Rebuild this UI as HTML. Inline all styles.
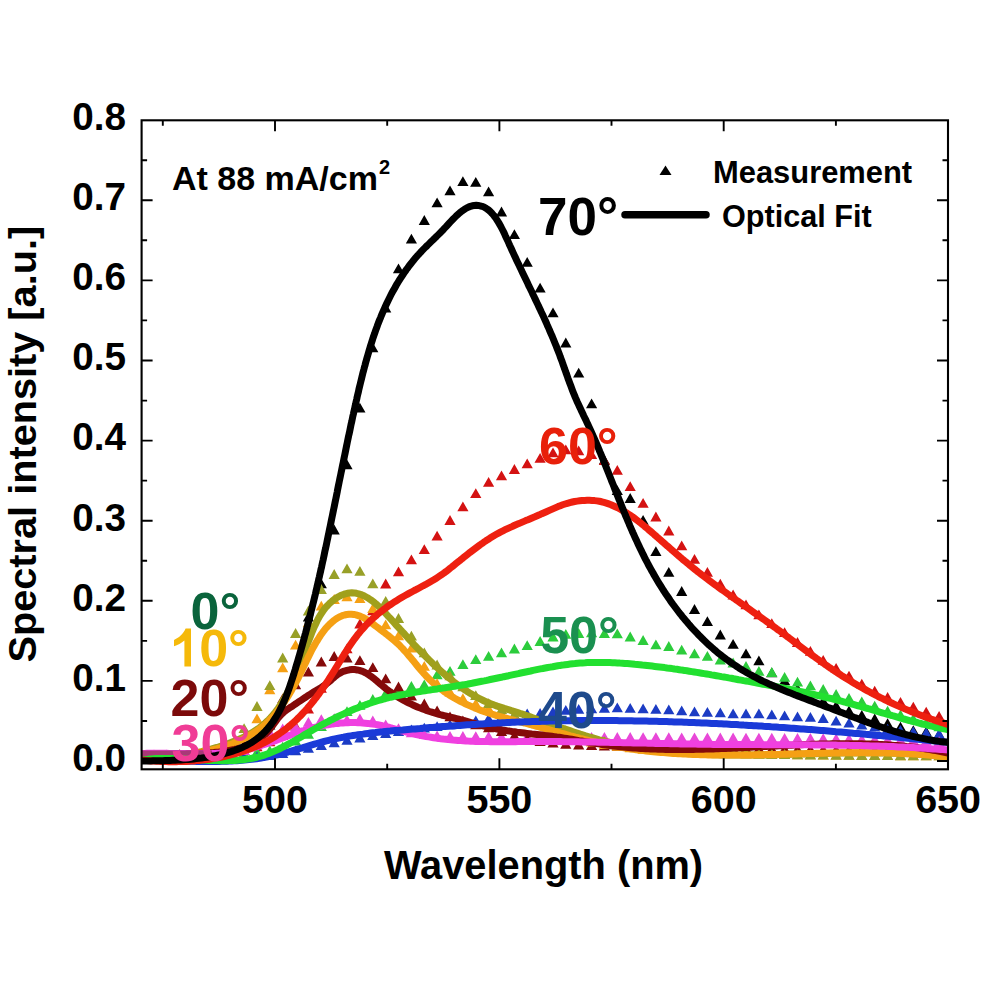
<!DOCTYPE html><html><head><meta charset="utf-8"><style>html,body{margin:0;padding:0;background:#fff;width:1000px;height:1000px;overflow:hidden}svg{display:block}</style></head><body><svg width="1000" height="1000" viewBox="0 0 1000 1000">
<rect width="1000" height="1000" fill="#fff"/>
<defs><clipPath id="c"><rect x="141.6" y="120.3" width="806.4" height="649.0"/></clipPath></defs>
<g clip-path="url(#c)">
<path fill="#000000" d="M148.4,760.3L154.0,750.5L159.6,760.3ZM161.3,760.0L166.9,750.2L172.5,760.0ZM174.1,759.6L179.7,749.8L185.3,759.6ZM187.0,759.0L192.6,749.2L198.2,759.0ZM199.9,758.3L205.5,748.5L211.1,758.3ZM212.8,757.2L218.3,747.4L223.9,757.2ZM225.6,755.2L231.2,745.4L236.8,755.2ZM238.5,749.2L244.1,739.4L249.7,749.2ZM251.4,741.3L257.0,731.5L262.6,741.3ZM264.2,729.5L269.8,719.7L275.4,729.5ZM277.1,711.3L282.7,701.5L288.3,711.3ZM290.0,679.4L295.6,669.6L301.2,679.4ZM302.8,621.5L308.4,611.7L314.0,621.5ZM315.7,588.2L321.3,578.4L326.9,588.2ZM328.6,534.4L334.2,524.6L339.8,534.4ZM341.4,469.3L347.0,459.5L352.6,469.3ZM354.3,412.6L359.9,402.8L365.5,412.6ZM367.2,352.3L372.8,342.5L378.4,352.3ZM380.1,312.4L385.7,302.6L391.3,312.4ZM392.9,273.2L398.5,263.4L404.1,273.2ZM405.8,243.5L411.4,233.7L417.0,243.5ZM418.7,224.9L424.3,215.1L429.9,224.9ZM431.5,207.2L437.1,197.4L442.7,207.2ZM444.4,195.3L450.0,185.5L455.6,195.3ZM457.3,186.1L462.9,176.3L468.5,186.1ZM470.1,186.7L475.8,176.9L481.4,186.7ZM483.0,196.2L488.6,186.4L494.2,196.2ZM495.9,216.4L501.5,206.6L507.1,216.4ZM508.8,239.0L514.4,229.2L520.0,239.0ZM521.6,266.7L527.2,256.9L532.8,266.7ZM534.5,292.5L540.1,282.7L545.7,292.5ZM547.4,317.2L553.0,307.4L558.6,317.2ZM560.2,347.4L565.8,337.6L571.4,347.4ZM573.1,377.6L578.7,367.8L584.3,377.6ZM586.0,408.2L591.6,398.4L597.2,408.2ZM598.8,464.5L604.4,454.7L610.0,464.5ZM611.7,495.0L617.3,485.2L622.9,495.0ZM624.6,502.9L630.2,493.1L635.8,502.9ZM637.5,524.8L643.1,515.0L648.7,524.8ZM650.3,556.0L655.9,546.2L661.5,556.0ZM663.2,576.8L668.8,567.0L674.4,576.8ZM676.1,595.9L681.7,586.1L687.3,595.9ZM688.9,613.9L694.5,604.1L700.1,613.9ZM701.8,626.1L707.4,616.3L713.0,626.1ZM714.7,639.4L720.3,629.6L725.9,639.4ZM727.5,648.7L733.1,638.9L738.8,648.7ZM740.4,658.3L746.0,648.5L751.6,658.3ZM753.3,665.3L758.9,655.5L764.5,665.3ZM766.2,677.3L771.8,667.5L777.4,677.3ZM779.0,685.3L784.6,675.5L790.2,685.3ZM791.9,693.3L797.5,683.5L803.1,693.3ZM804.8,701.3L810.4,691.5L816.0,701.3ZM817.6,705.6L823.2,695.8L828.8,705.6ZM830.5,710.3L836.1,700.5L841.7,710.3ZM843.4,715.4L849.0,705.6L854.6,715.4ZM856.2,719.8L861.8,710.0L867.4,719.8ZM869.1,723.4L874.7,713.6L880.3,723.4ZM882.0,728.0L887.6,718.2L893.2,728.0ZM894.9,731.5L900.5,721.7L906.1,731.5ZM907.7,735.1L913.3,725.3L918.9,735.1ZM920.6,736.3L926.2,726.5L931.8,736.3ZM933.5,738.9L939.1,729.1L944.7,738.9Z"/>
<path fill="#d41212" d="M148.4,760.3L154.0,750.5L159.6,760.3ZM161.3,760.1L166.9,750.3L172.5,760.1ZM174.1,759.8L179.7,750.0L185.3,759.8ZM187.0,759.4L192.6,749.6L198.2,759.4ZM199.9,758.8L205.5,749.0L211.1,758.8ZM212.8,758.1L218.3,748.3L223.9,758.1ZM225.6,757.3L231.2,747.5L236.8,757.3ZM238.5,755.1L244.1,745.3L249.7,755.1ZM251.4,751.2L257.0,741.4L262.6,751.2ZM264.2,746.3L269.8,736.5L275.4,746.3ZM277.1,740.0L282.7,730.2L288.3,740.0ZM290.0,730.6L295.6,720.8L301.2,730.6ZM302.8,713.6L308.4,703.8L314.0,713.6ZM315.7,692.8L321.3,683.0L326.9,692.8ZM328.6,675.0L334.2,665.2L339.8,675.0ZM341.4,653.2L347.0,643.4L352.6,653.2ZM354.3,628.4L359.9,618.6L365.5,628.4ZM367.2,615.3L372.8,605.5L378.4,615.3ZM380.1,588.4L385.7,578.6L391.3,588.4ZM392.9,576.2L398.5,566.4L404.1,576.2ZM405.8,564.3L411.4,554.5L417.0,564.3ZM418.7,554.1L424.3,544.3L429.9,554.1ZM431.5,540.6L437.1,530.8L442.7,540.6ZM444.4,524.9L450.0,515.1L455.6,524.9ZM457.3,511.3L462.9,501.5L468.5,511.3ZM470.1,498.1L475.8,488.3L481.4,498.1ZM483.0,486.8L488.6,477.0L494.2,486.8ZM495.9,480.2L501.5,470.4L507.1,480.2ZM508.8,473.9L514.4,464.1L520.0,473.9ZM521.6,468.3L527.2,458.5L532.8,468.3ZM534.5,462.7L540.1,452.9L545.7,462.7ZM547.4,457.3L553.0,447.5L558.6,457.3ZM560.2,454.3L565.8,444.5L571.4,454.3ZM573.1,455.2L578.7,445.4L584.3,455.2ZM586.0,459.1L591.6,449.3L597.2,459.1ZM598.8,465.1L604.4,455.3L610.0,465.1ZM611.7,474.7L617.3,464.9L622.9,474.7ZM624.6,491.1L630.2,481.3L635.8,491.1ZM637.5,507.7L643.1,497.9L648.7,507.7ZM650.3,521.4L655.9,511.6L661.5,521.4ZM663.2,535.4L668.8,525.6L674.4,535.4ZM676.1,550.3L681.7,540.5L687.3,550.3ZM688.9,563.8L694.5,554.0L700.1,563.8ZM701.8,576.7L707.4,566.9L713.0,576.7ZM714.7,588.5L720.3,578.7L725.9,588.5ZM727.5,599.4L733.1,589.6L738.8,599.4ZM740.4,609.3L746.0,599.5L751.6,609.3ZM753.3,619.2L758.9,609.4L764.5,619.2ZM766.2,628.1L771.8,618.3L777.4,628.1ZM779.0,637.0L784.6,627.2L790.2,637.0ZM791.9,646.9L797.5,637.1L803.1,646.9ZM804.8,655.8L810.4,646.0L816.0,655.8ZM817.6,664.8L823.2,655.0L828.8,664.8ZM830.5,672.7L836.1,662.9L841.7,672.7ZM843.4,680.6L849.0,670.8L854.6,680.6ZM856.2,688.6L861.8,678.8L867.4,688.6ZM869.1,695.6L874.7,685.8L880.3,695.6ZM882.0,701.7L887.6,691.9L893.2,701.7ZM894.9,706.7L900.5,696.9L906.1,706.7ZM907.7,711.6L913.3,701.8L918.9,711.6ZM920.6,716.6L926.2,706.8L931.8,716.6ZM933.5,720.7L939.1,710.9L944.7,720.7Z"/>
<path fill="#2ccc3c" d="M148.4,761.3L154.0,751.5L159.6,761.3ZM161.3,761.2L166.9,751.4L172.5,761.2ZM174.1,760.9L179.7,751.1L185.3,760.9ZM187.0,760.6L192.6,750.8L198.2,760.6ZM199.9,760.1L205.5,750.3L211.1,760.1ZM212.8,759.4L218.3,749.6L223.9,759.4ZM225.6,758.6L231.2,748.8L236.8,758.6ZM238.5,757.7L244.1,747.9L249.7,757.7ZM251.4,756.6L257.0,746.8L262.6,756.6ZM264.2,755.3L269.8,745.5L275.4,755.3ZM277.1,751.5L282.7,741.7L288.3,751.5ZM290.0,745.5L295.6,735.7L301.2,745.5ZM302.8,738.7L308.4,728.9L314.0,738.7ZM315.7,731.1L321.3,721.3L326.9,731.1ZM328.6,723.4L334.2,713.6L339.8,723.4ZM341.4,716.1L347.0,706.3L352.6,716.1ZM354.3,709.8L359.9,700.0L365.5,709.8ZM367.2,703.9L372.8,694.1L378.4,703.9ZM380.1,698.0L385.7,688.2L391.3,698.0ZM392.9,693.3L398.5,683.5L404.1,693.3ZM405.8,690.7L411.4,680.9L417.0,690.7ZM418.7,689.2L424.3,679.4L429.9,689.2ZM431.5,679.2L437.1,669.4L442.7,679.2ZM444.4,675.8L450.0,666.0L455.6,675.8ZM457.3,669.0L462.9,659.2L468.5,669.0ZM470.1,664.0L475.8,654.2L481.4,664.0ZM483.0,660.8L488.6,651.0L494.2,660.8ZM495.9,657.2L501.5,647.4L507.1,657.2ZM508.8,653.4L514.4,643.6L520.0,653.4ZM521.6,650.0L527.2,640.2L532.8,650.0ZM534.5,645.9L540.1,636.1L545.7,645.9ZM547.4,641.4L553.0,631.6L558.6,641.4ZM560.2,638.8L565.8,629.0L571.4,638.8ZM573.1,637.9L578.7,628.1L584.3,637.9ZM586.0,637.3L591.6,627.5L597.2,637.3ZM598.8,637.9L604.4,628.1L610.0,637.9ZM611.7,638.3L617.3,628.5L622.9,638.3ZM624.6,641.4L630.2,631.6L635.8,641.4ZM637.5,644.9L643.1,635.1L648.7,644.9ZM650.3,649.2L655.9,639.4L661.5,649.2ZM663.2,650.9L668.8,641.1L674.4,650.9ZM676.1,654.6L681.7,644.8L687.3,654.6ZM688.9,658.2L694.5,648.4L700.1,658.2ZM701.8,660.7L707.4,650.9L713.0,660.7ZM714.7,664.4L720.3,654.6L725.9,664.4ZM727.5,667.4L733.1,657.6L738.8,667.4ZM740.4,670.9L746.0,661.1L751.6,670.9ZM753.3,675.7L758.9,665.9L764.5,675.7ZM766.2,676.9L771.8,667.1L777.4,676.9ZM779.0,681.8L784.6,672.0L790.2,681.8ZM791.9,686.5L797.5,676.7L803.1,686.5ZM804.8,690.3L810.4,680.5L816.0,690.3ZM817.6,693.9L823.2,684.1L828.8,693.9ZM830.5,698.9L836.1,689.1L841.7,698.9ZM843.4,702.7L849.0,692.9L854.6,702.7ZM856.2,706.3L861.8,696.5L867.4,706.3ZM869.1,710.5L874.7,700.7L880.3,710.5ZM882.0,715.5L887.6,705.7L893.2,715.5ZM894.9,719.4L900.5,709.6L906.1,719.4ZM907.7,723.4L913.3,713.6L918.9,723.4ZM920.6,727.3L926.2,717.5L931.8,727.3ZM933.5,731.3L939.1,721.5L944.7,731.3Z"/>
<path fill="#1c3cc4" d="M148.4,762.3L154.0,752.5L159.6,762.3ZM161.3,762.2L166.9,752.4L172.5,762.2ZM174.1,762.2L179.7,752.4L185.3,762.2ZM187.0,762.1L192.6,752.3L198.2,762.1ZM199.9,762.0L205.5,752.2L211.1,762.0ZM212.8,761.9L218.3,752.1L223.9,761.9ZM225.6,761.7L231.2,751.9L236.8,761.7ZM238.5,761.5L244.1,751.7L249.7,761.5ZM251.4,761.3L257.0,751.5L262.6,761.3ZM264.2,760.1L269.8,750.3L275.4,760.1ZM277.1,757.9L282.7,748.1L288.3,757.9ZM290.0,755.3L295.6,745.5L301.2,755.3ZM302.8,752.8L308.4,743.0L314.0,752.8ZM315.7,750.0L321.3,740.2L326.9,750.0ZM328.6,747.2L334.2,737.4L339.8,747.2ZM341.4,744.7L347.0,734.9L352.6,744.7ZM354.3,742.4L359.9,732.6L365.5,742.4ZM367.2,740.1L372.8,730.3L378.4,740.1ZM380.1,738.0L385.7,728.2L391.3,738.0ZM392.9,736.1L398.5,726.3L404.1,736.1ZM405.8,734.2L411.4,724.4L417.0,734.2ZM418.7,732.5L424.3,722.7L429.9,732.5ZM431.5,731.0L437.1,721.2L442.7,731.0ZM444.4,729.3L450.0,719.5L455.6,729.3ZM457.3,727.3L462.9,717.5L468.5,727.3ZM470.1,725.2L475.8,715.4L481.4,725.2ZM483.0,723.2L488.6,713.4L494.2,723.2ZM495.9,721.2L501.5,711.4L507.1,721.2ZM508.8,719.4L514.4,709.6L520.0,719.4ZM521.6,718.2L527.2,708.4L532.8,718.2ZM534.5,717.7L540.1,707.9L545.7,717.7ZM547.4,716.3L553.0,706.5L558.6,716.3ZM560.2,714.8L565.8,705.0L571.4,714.8ZM573.1,713.8L578.7,704.0L584.3,713.8ZM586.0,713.3L591.6,703.5L597.2,713.3ZM598.8,712.7L604.4,702.9L610.0,712.7ZM611.7,712.3L617.3,702.5L622.9,712.3ZM624.6,712.8L630.2,703.0L635.8,712.8ZM637.5,713.3L643.1,703.5L648.7,713.3ZM650.3,713.8L655.9,704.0L661.5,713.8ZM663.2,714.3L668.8,704.5L674.4,714.3ZM676.1,715.3L681.7,705.5L687.3,715.3ZM688.9,716.3L694.5,706.5L700.1,716.3ZM701.8,716.8L707.4,707.0L713.0,716.8ZM714.7,717.3L720.3,707.5L725.9,717.3ZM727.5,718.3L733.1,708.5L738.8,718.3ZM740.4,718.3L746.0,708.5L751.6,718.3ZM753.3,718.3L758.9,708.5L764.5,718.3ZM766.2,719.3L771.8,709.5L777.4,719.3ZM779.0,720.3L784.6,710.5L790.2,720.3ZM791.9,721.3L797.5,711.5L803.1,721.3ZM804.8,721.8L810.4,712.0L816.0,721.8ZM817.6,723.1L823.2,713.3L828.8,723.1ZM830.5,725.6L836.1,715.8L841.7,725.6ZM843.4,727.6L849.0,717.8L854.6,727.6ZM856.2,729.6L861.8,719.8L867.4,729.6ZM869.1,731.5L874.7,721.7L880.3,731.5ZM882.0,733.5L887.6,723.7L893.2,733.5ZM894.9,734.9L900.5,725.1L906.1,734.9ZM907.7,736.4L913.3,726.6L918.9,736.4ZM920.6,737.4L926.2,727.6L931.8,737.4ZM933.5,738.4L939.1,728.6L944.7,738.4Z"/>
<path fill="#e848d8" d="M148.4,759.3L154.0,749.5L159.6,759.3ZM161.3,759.2L166.9,749.4L172.5,759.2ZM174.1,758.9L179.7,749.1L185.3,758.9ZM187.0,758.6L192.6,748.8L198.2,758.6ZM199.9,758.0L205.5,748.2L211.1,758.0ZM212.8,757.2L218.3,747.4L223.9,757.2ZM225.6,756.2L231.2,746.4L236.8,756.2ZM238.5,754.9L244.1,745.1L249.7,754.9ZM251.4,749.3L257.0,739.5L262.6,749.3ZM264.2,737.1L269.8,727.3L275.4,737.1ZM277.1,733.4L282.7,723.6L288.3,733.4ZM290.0,731.2L295.6,721.4L301.2,731.2ZM302.8,726.8L308.4,717.0L314.0,726.8ZM315.7,724.0L321.3,714.2L326.9,724.0ZM328.6,723.4L334.2,713.6L339.8,723.4ZM341.4,724.3L347.0,714.5L352.6,724.3ZM354.3,723.3L359.9,713.5L365.5,723.3ZM367.2,725.2L372.8,715.4L378.4,725.2ZM380.1,729.2L385.7,719.4L391.3,729.2ZM392.9,733.1L398.5,723.3L404.1,733.1ZM405.8,737.2L411.4,727.4L417.0,737.2ZM418.7,739.0L424.3,729.2L429.9,739.0ZM431.5,740.2L437.1,730.4L442.7,740.2ZM444.4,740.8L450.0,731.0L455.6,740.8ZM457.3,740.9L462.9,731.1L468.5,740.9ZM470.1,741.0L475.8,731.2L481.4,741.0ZM483.0,741.1L488.6,731.3L494.2,741.1ZM495.9,741.2L501.5,731.4L507.1,741.2ZM508.8,741.2L514.4,731.4L520.0,741.2ZM521.6,741.3L527.2,731.5L532.8,741.3ZM534.5,741.4L540.1,731.6L545.7,741.4ZM547.4,741.5L553.0,731.7L558.6,741.5ZM560.2,741.6L565.8,731.8L571.4,741.6ZM573.1,741.6L578.7,731.8L584.3,741.6ZM586.0,741.7L591.6,731.9L597.2,741.7ZM598.8,741.8L604.4,732.0L610.0,741.8ZM611.7,741.9L617.3,732.1L622.9,741.9ZM624.6,741.9L630.2,732.1L635.8,741.9ZM637.5,742.0L643.1,732.2L648.7,742.0ZM650.3,742.1L655.9,732.3L661.5,742.1ZM663.2,742.1L668.8,732.3L674.4,742.1ZM676.1,742.2L681.7,732.4L687.3,742.2ZM688.9,742.2L694.5,732.4L700.1,742.2ZM701.8,742.3L707.4,732.5L713.0,742.3ZM714.7,742.4L720.3,732.6L725.9,742.4ZM727.5,742.4L733.1,732.6L738.8,742.4ZM740.4,742.5L746.0,732.7L751.6,742.5ZM753.3,742.5L758.9,732.7L764.5,742.5ZM766.2,742.6L771.8,732.8L777.4,742.6ZM779.0,742.7L784.6,732.9L790.2,742.7ZM791.9,742.7L797.5,732.9L803.1,742.7ZM804.8,742.9L810.4,733.1L816.0,742.9ZM817.6,743.0L823.2,733.2L828.8,743.0ZM830.5,743.2L836.1,733.4L841.7,743.2ZM843.4,743.5L849.0,733.7L854.6,743.5ZM856.2,743.7L861.8,733.9L867.4,743.7ZM869.1,744.0L874.7,734.2L880.3,744.0ZM882.0,744.4L887.6,734.6L893.2,744.4ZM894.9,744.7L900.5,734.9L906.1,744.7ZM907.7,745.1L913.3,735.3L918.9,745.1ZM920.6,745.5L926.2,735.7L931.8,745.5ZM933.5,746.0L939.1,736.2L944.7,746.0Z"/>
<path fill="#840a0a" d="M148.4,760.3L154.0,750.5L159.6,760.3ZM161.3,760.1L166.9,750.3L172.5,760.1ZM174.1,759.6L179.7,749.8L185.3,759.6ZM187.0,758.9L192.6,749.1L198.2,758.9ZM199.9,757.9L205.5,748.1L211.1,757.9ZM212.8,756.6L218.3,746.8L223.9,756.6ZM225.6,755.1L231.2,745.3L236.8,755.1ZM238.5,750.1L244.1,740.3L249.7,750.1ZM251.4,741.3L257.0,731.5L262.6,741.3ZM264.2,723.8L269.8,714.0L275.4,723.8ZM277.1,703.3L282.7,693.5L288.3,703.3ZM290.0,689.3L295.6,679.5L301.2,689.3ZM302.8,676.5L308.4,666.7L314.0,676.5ZM315.7,666.4L321.3,656.6L326.9,666.4ZM328.6,660.9L334.2,651.1L339.8,660.9ZM341.4,662.4L347.0,652.6L352.6,662.4ZM354.3,665.1L359.9,655.3L365.5,665.1ZM367.2,672.1L372.8,662.3L378.4,672.1ZM380.1,683.3L385.7,673.5L391.3,683.3ZM392.9,691.4L398.5,681.6L404.1,691.4ZM405.8,700.5L411.4,690.7L417.0,700.5ZM418.7,708.4L424.3,698.6L429.9,708.4ZM431.5,715.3L437.1,705.5L442.7,715.3ZM444.4,721.3L450.0,711.5L455.6,721.3ZM457.3,725.2L462.9,715.4L468.5,725.2ZM470.1,729.2L475.8,719.4L481.4,729.2ZM483.0,732.2L488.6,722.4L494.2,732.2ZM495.9,736.1L501.5,726.3L507.1,736.1ZM508.8,740.2L514.4,730.4L520.0,740.2ZM521.6,743.7L527.2,733.9L532.8,743.7ZM534.5,746.0L540.1,736.2L545.7,746.0ZM547.4,747.6L553.0,737.8L558.6,747.6ZM560.2,748.7L565.8,738.9L571.4,748.7ZM573.1,749.4L578.7,739.6L584.3,749.4ZM586.0,750.0L591.6,740.2L597.2,750.0ZM598.8,750.4L604.4,740.6L610.0,750.4ZM611.7,750.7L617.3,740.9L622.9,750.7ZM624.6,751.1L630.2,741.3L635.8,751.1ZM637.5,751.3L643.1,741.5L648.7,751.3ZM650.3,751.6L655.9,741.8L661.5,751.6ZM663.2,751.8L668.8,742.0L674.4,751.8ZM676.1,752.0L681.7,742.2L687.3,752.0ZM688.9,752.2L694.5,742.4L700.1,752.2ZM701.8,752.4L707.4,742.6L713.0,752.4ZM714.7,752.6L720.3,742.8L725.9,752.6ZM727.5,752.8L733.1,743.0L738.8,752.8ZM740.4,753.0L746.0,743.2L751.6,753.0ZM753.3,753.2L758.9,743.4L764.5,753.2ZM766.2,753.3L771.8,743.5L777.4,753.3ZM779.0,753.5L784.6,743.7L790.2,753.5ZM791.9,753.7L797.5,743.9L803.1,753.7ZM804.8,753.9L810.4,744.1L816.0,753.9ZM817.6,754.0L823.2,744.2L828.8,754.0ZM830.5,754.2L836.1,744.4L841.7,754.2ZM843.4,754.4L849.0,744.6L854.6,754.4ZM856.2,754.5L861.8,744.7L867.4,754.5ZM869.1,754.6L874.7,744.8L880.3,754.6ZM882.0,754.8L887.6,745.0L893.2,754.8ZM894.9,754.9L900.5,745.1L906.1,754.9ZM907.7,755.0L913.3,745.2L918.9,755.0ZM920.6,755.1L926.2,745.3L931.8,755.1ZM933.5,755.2L939.1,745.4L944.7,755.2Z"/>
<path fill="#f5a014" d="M148.4,760.2L154.0,750.4L159.6,760.2ZM161.3,759.9L166.9,750.1L172.5,759.9ZM174.1,759.2L179.7,749.4L185.3,759.2ZM187.0,758.1L192.6,748.3L198.2,758.1ZM199.9,756.6L205.5,746.8L211.1,756.6ZM212.8,754.5L218.3,744.7L223.9,754.5ZM225.6,751.9L231.2,742.1L236.8,751.9ZM238.5,741.6L244.1,731.8L249.7,741.6ZM251.4,723.3L257.0,713.5L262.6,723.3ZM264.2,694.3L269.8,684.5L275.4,694.3ZM277.1,672.3L282.7,662.5L288.3,672.3ZM290.0,649.5L295.6,639.7L301.2,649.5ZM302.8,627.0L308.4,617.2L314.0,627.0ZM315.7,610.5L321.3,600.7L326.9,610.5ZM328.6,603.9L334.2,594.1L339.8,603.9ZM341.4,601.3L347.0,591.5L352.6,601.3ZM354.3,603.1L359.9,593.3L365.5,603.1ZM367.2,613.0L372.8,603.2L378.4,613.0ZM380.1,629.2L385.7,619.4L391.3,629.2ZM392.9,640.3L398.5,630.5L404.1,640.3ZM405.8,652.6L411.4,642.8L417.0,652.6ZM418.7,670.7L424.3,660.9L429.9,670.7ZM431.5,688.1L437.1,678.3L442.7,688.1ZM444.4,696.5L450.0,686.7L455.6,696.5ZM457.3,703.1L462.9,693.3L468.5,703.1ZM470.1,708.2L475.8,698.4L481.4,708.2ZM483.0,713.1L488.6,703.3L494.2,713.1ZM495.9,717.8L501.5,708.0L507.1,717.8ZM508.8,721.5L514.4,711.7L520.0,721.5ZM521.6,724.5L527.2,714.7L532.8,724.5ZM534.5,728.4L540.1,718.6L545.7,728.4ZM547.4,732.9L553.0,723.1L558.6,732.9ZM560.2,737.3L565.8,727.5L571.4,737.3ZM573.1,742.2L578.7,732.4L584.3,742.2ZM586.0,746.4L591.6,736.6L597.2,746.4ZM598.8,748.9L604.4,739.1L610.0,748.9ZM611.7,750.7L617.3,740.9L622.9,750.7ZM624.6,752.3L630.2,742.5L635.8,752.3ZM637.5,753.7L643.1,743.9L648.7,753.7ZM650.3,754.9L655.9,745.1L661.5,754.9ZM663.2,755.9L668.8,746.1L674.4,755.9ZM676.1,756.6L681.7,746.8L687.3,756.6ZM688.9,757.1L694.5,747.3L700.1,757.1ZM701.8,757.4L707.4,747.6L713.0,757.4ZM714.7,757.7L720.3,747.9L725.9,757.7ZM727.5,758.0L733.1,748.2L738.8,758.0ZM740.4,758.3L746.0,748.5L751.6,758.3ZM753.3,758.5L758.9,748.7L764.5,758.5ZM766.2,758.7L771.8,748.9L777.4,758.7ZM779.0,759.0L784.6,749.2L790.2,759.0ZM791.9,759.2L797.5,749.4L803.1,759.2ZM804.8,759.3L810.4,749.5L816.0,759.3ZM817.6,759.5L823.2,749.7L828.8,759.5ZM830.5,759.6L836.1,749.8L841.7,759.6ZM843.4,759.8L849.0,750.0L854.6,759.8ZM856.2,759.9L861.8,750.1L867.4,759.9ZM869.1,760.0L874.7,750.2L880.3,760.0ZM882.0,760.1L887.6,750.3L893.2,760.1ZM894.9,760.2L900.5,750.4L906.1,760.2ZM907.7,760.2L913.3,750.4L918.9,760.2ZM920.6,760.2L926.2,750.4L931.8,760.2ZM933.5,760.3L939.1,750.5L944.7,760.3Z"/>
<path fill="#98a028" d="M148.4,760.3L154.0,750.5L159.6,760.3ZM161.3,760.0L166.9,750.2L172.5,760.0ZM174.1,759.2L179.7,749.4L185.3,759.2ZM187.0,758.1L192.6,748.3L198.2,758.1ZM199.9,756.3L205.5,746.5L211.1,756.3ZM212.8,754.0L218.3,744.2L223.9,754.0ZM225.6,750.8L231.2,741.0L236.8,750.8ZM238.5,733.1L244.1,723.3L249.7,733.1ZM251.4,710.9L257.0,701.1L262.6,710.9ZM264.2,690.1L269.8,680.3L275.4,690.1ZM277.1,662.4L282.7,652.6L288.3,662.4ZM290.0,637.9L295.6,628.1L301.2,637.9ZM302.8,615.4L308.4,605.6L314.0,615.4ZM315.7,593.9L321.3,584.1L326.9,593.9ZM328.6,578.9L334.2,569.1L339.8,578.9ZM341.4,573.3L347.0,563.5L352.6,573.3ZM354.3,575.7L359.9,565.9L365.5,575.7ZM367.2,588.2L372.8,578.4L378.4,588.2ZM380.1,605.7L385.7,595.9L391.3,605.7ZM392.9,622.9L398.5,613.1L404.1,622.9ZM405.8,640.5L411.4,630.7L417.0,640.5ZM418.7,657.2L424.3,647.4L429.9,657.2ZM431.5,669.4L437.1,659.6L442.7,669.4ZM444.4,680.3L450.0,670.5L455.6,680.3ZM457.3,691.2L462.9,681.4L468.5,691.2ZM470.1,700.1L475.8,690.3L481.4,700.1ZM483.0,708.1L488.6,698.3L494.2,708.1ZM495.9,714.1L501.5,704.3L507.1,714.1ZM508.8,719.0L514.4,709.2L520.0,719.0ZM521.6,723.0L527.2,713.2L532.8,723.0ZM534.5,727.1L540.1,717.3L545.7,727.1ZM547.4,731.1L553.0,721.3L558.6,731.1ZM560.2,735.1L565.8,725.3L571.4,735.1ZM573.1,739.5L578.7,729.7L584.3,739.5ZM586.0,743.4L591.6,733.6L597.2,743.4ZM598.8,746.1L604.4,736.3L610.0,746.1ZM611.7,748.3L617.3,738.5L622.9,748.3ZM624.6,750.4L630.2,740.6L635.8,750.4ZM637.5,752.3L643.1,742.5L648.7,752.3ZM650.3,754.0L655.9,744.2L661.5,754.0ZM663.2,755.3L668.8,745.5L674.4,755.3ZM676.1,756.4L681.7,746.6L687.3,756.4ZM688.9,757.1L694.5,747.3L700.1,757.1ZM701.8,757.4L707.4,747.6L713.0,757.4ZM714.7,757.7L720.3,747.9L725.9,757.7ZM727.5,758.0L733.1,748.2L738.8,758.0ZM740.4,758.3L746.0,748.5L751.6,758.3ZM753.3,758.5L758.9,748.7L764.5,758.5ZM766.2,758.8L771.8,749.0L777.4,758.8ZM779.0,759.0L784.6,749.2L790.2,759.0ZM791.9,759.2L797.5,749.4L803.1,759.2ZM804.8,759.4L810.4,749.6L816.0,759.4ZM817.6,759.5L823.2,749.7L828.8,759.5ZM830.5,759.7L836.1,749.9L841.7,759.7ZM843.4,759.8L849.0,750.0L854.6,759.8ZM856.2,759.9L861.8,750.1L867.4,759.9ZM869.1,760.0L874.7,750.2L880.3,760.0ZM882.0,760.1L887.6,750.3L893.2,760.1ZM894.9,760.2L900.5,750.4L906.1,760.2ZM907.7,760.2L913.3,750.4L918.9,760.2ZM920.6,760.2L926.2,750.4L931.8,760.2ZM933.5,760.3L939.1,750.5L944.7,760.3Z"/>
<path fill="none" stroke="#a0a01c" stroke-width="7" stroke-linejoin="round" stroke-linecap="round" d="M142.0,757.0L144.6,757.1L147.2,757.2L149.7,757.2L152.3,757.2L154.8,757.2L157.4,757.2L159.9,757.1L162.4,757.0L164.9,756.9L167.4,756.7L169.9,756.6L172.3,756.3L174.8,756.1L177.3,755.8L179.7,755.5L182.2,755.2L184.6,754.9L187.0,754.5L189.4,754.1L191.9,753.6L194.3,753.2L196.7,752.7L199.1,752.1L201.5,751.6L203.9,751.0L206.3,750.4L208.7,749.8L211.1,749.1L213.5,748.4L215.9,747.7L218.3,747.0L220.7,746.2L223.1,745.4L225.5,744.6L227.9,743.7L230.3,742.8L232.7,741.9L235.0,741.0L237.4,740.0L239.7,739.0L242.1,737.9L244.4,736.8L246.6,735.6L248.9,734.5L251.1,733.2L253.2,731.9L255.4,730.6L257.4,729.2L259.5,727.8L261.4,726.3L263.4,724.7L265.2,723.1L267.0,721.4L268.8,719.7L270.5,717.9L272.1,716.1L273.7,714.2L275.2,712.3L276.7,710.3L278.2,708.3L279.6,706.3L280.9,704.2L282.2,702.1L283.5,699.9L284.8,697.7L286.0,695.5L287.1,693.3L288.3,691.1L289.4,688.8L290.4,686.5L291.5,684.2L292.5,681.9L293.5,679.6L294.5,677.2L295.5,674.9L296.4,672.5L297.3,670.2L298.3,667.9L299.2,665.5L300.1,663.2L300.9,660.9L301.8,658.6L302.7,656.3L303.6,654.0L304.4,651.7L305.3,649.4L306.2,647.1L307.1,644.8L308.0,642.5L308.9,640.2L309.8,637.9L310.7,635.6L311.6,633.2L312.6,630.9L313.6,628.5L314.6,626.2L315.7,623.9L316.8,621.5L318.0,619.2L319.2,617.0L320.5,614.8L321.9,612.6L323.4,610.5L324.9,608.4L326.6,606.5L328.4,604.6L330.2,602.8L332.2,601.1L334.2,599.5L336.3,598.1L338.4,596.8L340.6,595.6L342.8,594.7L345.1,593.9L347.4,593.3L349.6,593.0L351.9,592.8L354.2,592.9L356.5,593.3L358.7,593.8L361.0,594.5L363.2,595.4L365.3,596.5L367.5,597.7L369.6,599.1L371.7,600.5L373.7,602.1L375.7,603.7L377.6,605.4L379.5,607.1L381.3,608.9L383.1,610.8L384.9,612.6L386.6,614.5L388.3,616.4L390.1,618.2L391.8,620.1L393.5,622.0L395.2,623.9L396.9,625.8L398.6,627.6L400.3,629.5L402.0,631.4L403.7,633.2L405.4,635.1L407.1,636.9L408.8,638.8L410.4,640.6L412.1,642.4L413.8,644.3L415.5,646.1L417.2,647.9L419.0,649.7L420.7,651.5L422.4,653.3L424.1,655.0L425.9,656.8L427.6,658.5L429.4,660.3L431.2,662.0L432.9,663.7L434.7,665.4L436.6,667.1L438.4,668.8L440.2,670.5L442.1,672.1L444.0,673.7L445.8,675.4L447.8,677.0L449.7,678.6L451.6,680.1L453.6,681.7L455.6,683.2L457.6,684.7L459.7,686.2L461.7,687.7L463.8,689.1L465.9,690.6L468.0,691.9L470.1,693.3L472.3,694.6L474.5,695.9L476.6,697.1L478.9,698.3L481.1,699.4L483.3,700.5L485.6,701.6L487.9,702.5L490.2,703.5L492.5,704.4L494.8,705.2L497.2,706.1L499.5,706.8L501.9,707.6L504.2,708.4L506.6,709.1L509.0,709.8L511.4,710.6L513.7,711.3L516.1,712.1L518.5,712.9L520.9,713.7L523.2,714.4L525.6,715.2L528.0,716.1L530.3,716.9L532.7,717.7L535.1,718.5L537.4,719.3L539.8,720.2L542.2,721.0L544.5,721.8L546.9,722.7L549.3,723.5L551.7,724.4L554.0,725.2L556.4,726.0L558.8,726.9L561.1,727.7L563.5,728.5L565.9,729.3L568.3,730.1L570.6,730.9L573.0,731.7L575.4,732.5L577.8,733.3L580.2,734.1L582.5,734.8L584.9,735.6L587.3,736.3L589.7,737.0L592.1,737.7L594.5,738.4L596.9,739.1L599.3,739.8L601.7,740.4L604.2,741.0L606.6,741.6L609.0,742.2L611.4,742.8L613.8,743.4L616.3,743.9L618.7,744.4L621.1,744.9L623.6,745.4L626.0,745.9L628.4,746.4L630.9,746.8L633.3,747.3L635.8,747.7L638.2,748.1L640.7,748.5L643.1,748.9L645.6,749.2L648.1,749.6L650.5,749.9L653.0,750.2L655.5,750.6L657.9,750.9L660.4,751.1L662.9,751.4L665.4,751.7L667.8,751.9L670.3,752.2L672.8,752.4L675.3,752.6L677.8,752.8L680.3,753.0L682.8,753.2L685.3,753.4L687.8,753.6L690.3,753.7L692.8,753.9L695.3,754.0L697.8,754.1L700.3,754.2L702.8,754.3L705.3,754.4L707.8,754.5L710.3,754.6L712.8,754.7L715.3,754.8L717.8,754.8L720.3,754.9L722.8,754.9L725.4,755.0L727.9,755.0L730.4,755.0L732.9,755.1L735.4,755.1L737.9,755.1L740.5,755.1L743.0,755.1L745.5,755.1L748.0,755.1L750.6,755.1L753.1,755.0L755.6,755.0L758.1,755.0L760.7,754.9L763.2,754.9L765.7,754.9L768.2,754.8L770.8,754.8L773.3,754.7L775.8,754.7L778.3,754.6L780.9,754.6L783.4,754.5L785.9,754.4L788.4,754.4L791.0,754.3L793.5,754.3L796.0,754.2L798.5,754.1L801.1,754.1L803.6,754.0L806.1,753.9L808.6,753.9L811.2,753.8L813.7,753.7L816.2,753.7L818.7,753.6L821.3,753.5L823.8,753.5L826.3,753.4L828.8,753.4L831.3,753.3L833.9,753.3L836.4,753.2L838.9,753.2L841.4,753.1L843.9,753.1L846.4,753.0L848.9,753.0L851.5,753.0L854.0,753.0L856.5,752.9L859.0,752.9L861.5,752.9L864.0,752.9L866.5,752.9L869.0,752.9L871.5,752.9L874.0,752.9L876.5,752.9L879.0,753.0L881.5,753.0L884.0,753.0L886.5,753.1L889.0,753.1L891.4,753.2L893.9,753.2L896.4,753.3L898.9,753.4L901.4,753.5L903.8,753.6L906.3,753.7L908.8,753.8L911.3,753.9L913.7,754.1L916.2,754.2L918.6,754.4L921.1,754.5L923.6,754.7L926.0,754.9L928.5,755.1L930.9,755.3L933.4,755.5L935.8,755.7L938.3,755.9L940.7,756.2L943.1,756.4L945.6,756.7L948.0,757.0"/>
<path fill="none" stroke="#f5a014" stroke-width="7" stroke-linejoin="round" stroke-linecap="round" d="M142.0,757.0L144.3,757.0L146.6,757.0L148.9,756.9L151.3,756.9L153.7,756.8L156.1,756.7L158.5,756.6L161.0,756.5L163.4,756.4L165.9,756.3L168.4,756.1L170.9,756.0L173.4,755.8L175.9,755.6L178.4,755.3L181.0,755.1L183.5,754.8L186.0,754.5L188.6,754.2L191.1,753.9L193.7,753.5L196.2,753.1L198.7,752.7L201.3,752.2L203.8,751.7L206.3,751.2L208.9,750.7L211.4,750.1L213.9,749.5L216.3,748.9L218.8,748.2L221.3,747.5L223.7,746.7L226.1,746.0L228.5,745.1L230.9,744.3L233.2,743.4L235.6,742.4L237.9,741.4L240.2,740.4L242.4,739.4L244.6,738.2L246.8,737.1L249.0,735.9L251.1,734.6L253.2,733.3L255.3,732.0L257.3,730.6L259.3,729.2L261.2,727.7L263.1,726.1L265.0,724.5L266.8,722.9L268.6,721.2L270.3,719.4L272.0,717.6L273.7,715.8L275.3,713.9L276.9,712.0L278.5,710.0L280.0,708.0L281.5,706.0L282.9,704.0L284.3,701.9L285.7,699.8L287.1,697.7L288.4,695.6L289.7,693.4L291.0,691.2L292.2,689.0L293.5,686.8L294.7,684.6L295.9,682.4L297.0,680.2L298.2,678.0L299.3,675.7L300.4,673.5L301.5,671.3L302.5,669.1L303.6,666.9L304.6,664.7L305.7,662.5L306.7,660.3L307.8,658.1L308.9,655.9L310.0,653.7L311.1,651.5L312.2,649.3L313.4,647.1L314.7,644.9L315.9,642.7L317.3,640.5L318.7,638.2L320.1,636.0L321.6,633.8L323.2,631.7L324.8,629.6L326.5,627.6L328.3,625.6L330.1,623.8L332.0,622.1L333.9,620.5L335.9,619.0L337.9,617.8L340.1,616.6L342.2,615.7L344.5,615.0L346.8,614.5L349.1,614.2L351.4,614.2L353.7,614.4L356.0,614.9L358.3,615.6L360.6,616.4L362.9,617.4L365.1,618.6L367.3,620.0L369.4,621.4L371.5,622.9L373.6,624.4L375.6,626.0L377.7,627.5L379.7,629.1L381.8,630.6L383.8,632.1L385.8,633.7L387.8,635.2L389.7,636.8L391.7,638.4L393.6,640.0L395.4,641.6L397.3,643.2L399.1,644.9L400.8,646.7L402.5,648.4L404.2,650.3L405.9,652.1L407.5,654.0L409.1,655.9L410.7,657.8L412.3,659.7L413.9,661.6L415.5,663.6L417.0,665.5L418.6,667.4L420.2,669.3L421.9,671.2L423.5,673.1L425.2,674.9L426.9,676.8L428.6,678.5L430.4,680.3L432.2,682.0L434.0,683.6L435.9,685.2L437.8,686.8L439.8,688.3L441.8,689.8L443.8,691.3L445.8,692.7L447.9,694.1L450.0,695.4L452.2,696.7L454.3,698.0L456.5,699.2L458.7,700.4L460.9,701.6L463.2,702.7L465.4,703.8L467.7,704.9L470.0,705.9L472.3,706.9L474.6,707.9L476.9,708.8L479.2,709.7L481.6,710.6L483.9,711.4L486.3,712.3L488.7,713.0L491.0,713.8L493.4,714.5L495.8,715.3L498.2,716.0L500.6,716.7L503.0,717.3L505.4,718.0L507.8,718.6L510.2,719.3L512.6,719.9L515.0,720.5L517.4,721.2L519.8,721.8L522.2,722.4L524.6,723.0L527.1,723.7L529.5,724.3L531.9,725.0L534.3,725.6L536.7,726.3L539.1,726.9L541.5,727.6L543.9,728.3L546.3,729.0L548.7,729.6L551.1,730.3L553.5,731.0L556.0,731.7L558.4,732.4L560.8,733.1L563.2,733.7L565.6,734.4L568.0,735.1L570.4,735.8L572.8,736.4L575.2,737.1L577.6,737.7L580.1,738.4L582.5,739.0L584.9,739.6L587.3,740.2L589.7,740.8L592.1,741.4L594.6,742.0L597.0,742.6L599.4,743.1L601.9,743.7L604.3,744.2L606.7,744.7L609.2,745.2L611.6,745.7L614.0,746.1L616.5,746.6L618.9,747.0L621.4,747.4L623.8,747.8L626.3,748.2L628.7,748.6L631.2,749.0L633.7,749.3L636.1,749.7L638.6,750.0L641.1,750.3L643.5,750.6L646.0,750.9L648.5,751.2L650.9,751.5L653.4,751.7L655.9,752.0L658.4,752.2L660.8,752.4L663.3,752.6L665.8,752.8L668.3,753.0L670.8,753.2L673.3,753.4L675.7,753.5L678.2,753.7L680.7,753.8L683.2,754.0L685.7,754.1L688.2,754.2L690.7,754.3L693.2,754.4L695.7,754.5L698.2,754.6L700.7,754.7L703.2,754.8L705.7,754.8L708.2,754.9L710.7,754.9L713.2,755.0L715.7,755.0L718.2,755.0L720.7,755.1L723.2,755.1L725.8,755.1L728.3,755.1L730.8,755.1L733.3,755.1L735.8,755.1L738.3,755.1L740.8,755.0L743.3,755.0L745.8,755.0L748.4,755.0L750.9,754.9L753.4,754.9L755.9,754.8L758.4,754.8L760.9,754.8L763.5,754.7L766.0,754.6L768.5,754.6L771.0,754.5L773.5,754.5L776.0,754.4L778.6,754.4L781.1,754.3L783.6,754.2L786.1,754.2L788.6,754.1L791.1,754.0L793.7,754.0L796.2,753.9L798.7,753.8L801.2,753.7L803.7,753.7L806.2,753.6L808.8,753.5L811.3,753.5L813.8,753.4L816.3,753.3L818.8,753.3L821.3,753.2L823.8,753.2L826.3,753.1L828.9,753.1L831.4,753.0L833.9,753.0L836.4,752.9L838.9,752.9L841.4,752.8L843.9,752.8L846.4,752.8L848.9,752.7L851.4,752.7L853.9,752.7L856.4,752.7L858.9,752.7L861.4,752.6L863.9,752.6L866.4,752.7L868.9,752.7L871.4,752.7L873.9,752.7L876.4,752.7L878.9,752.8L881.4,752.8L883.9,752.8L886.4,752.9L888.9,753.0L891.3,753.0L893.8,753.1L896.3,753.2L898.8,753.3L901.3,753.4L903.7,753.5L906.2,753.6L908.7,753.7L911.2,753.8L913.6,754.0L916.1,754.1L918.6,754.3L921.0,754.5L923.5,754.6L925.9,754.8L928.4,755.0L930.9,755.2L933.3,755.5L935.8,755.7L938.2,755.9L940.7,756.2L943.1,756.4L945.6,756.7L948.0,757.0"/>
<path fill="none" stroke="#840a0a" stroke-width="7" stroke-linejoin="round" stroke-linecap="round" d="M142.0,757.0L143.9,756.5L146.0,756.1L148.0,755.7L150.1,755.4L152.3,755.1L154.5,754.9L156.8,754.7L159.1,754.5L161.5,754.3L163.9,754.2L166.3,754.1L168.8,754.0L171.3,753.9L173.9,753.8L176.4,753.8L179.0,753.7L181.6,753.7L184.2,753.7L186.9,753.6L189.6,753.6L192.2,753.6L194.9,753.5L197.6,753.4L200.3,753.3L203.0,753.2L205.7,753.1L208.4,753.0L211.1,752.8L213.7,752.6L216.4,752.3L219.0,752.1L221.7,751.8L224.3,751.4L226.9,751.0L229.4,750.5L232.0,750.0L234.5,749.5L237.0,748.9L239.4,748.2L241.8,747.5L244.2,746.7L246.5,745.8L248.8,744.8L251.0,743.8L253.2,742.7L255.3,741.6L257.4,740.3L259.4,738.9L261.4,737.5L263.2,736.0L265.1,734.4L266.8,732.6L268.5,730.8L270.1,728.9L271.7,726.9L273.2,724.8L274.7,722.7L276.2,720.6L277.7,718.6L279.3,716.7L281.0,714.8L282.8,713.1L284.6,711.5L286.6,710.0L288.6,708.6L290.6,707.2L292.7,705.9L294.7,704.5L296.8,703.1L298.9,701.7L301.0,700.3L303.1,698.9L305.2,697.5L307.3,696.1L309.4,694.8L311.5,693.4L313.6,692.1L315.8,690.8L317.9,689.5L320.0,688.3L322.1,686.9L324.2,685.6L326.2,684.1L328.1,682.6L329.9,681.1L331.7,679.4L333.6,677.8L335.4,676.2L337.4,674.7L339.5,673.3L341.8,672.1L344.3,671.1L346.9,670.4L349.5,669.8L352.1,669.6L354.6,669.6L357.1,669.9L359.4,670.4L361.7,671.1L363.9,672.0L366.1,673.1L368.2,674.4L370.2,675.8L372.2,677.2L374.2,678.8L376.2,680.4L378.1,682.1L380.1,683.8L382.0,685.4L384.0,687.1L386.0,688.7L388.0,690.2L390.0,691.7L392.0,693.1L394.1,694.5L396.2,695.9L398.3,697.2L400.4,698.5L402.5,699.7L404.7,700.9L406.9,702.0L409.0,703.1L411.3,704.2L413.5,705.2L415.7,706.2L418.0,707.2L420.3,708.1L422.6,709.0L424.9,709.8L427.2,710.7L429.6,711.5L431.9,712.2L434.3,712.9L436.7,713.6L439.1,714.3L441.6,715.0L444.0,715.6L446.5,716.2L449.0,716.8L451.5,717.4L453.9,718.0L456.4,718.6L458.8,719.2L461.3,719.8L463.7,720.5L466.1,721.1L468.5,721.8L470.9,722.5L473.3,723.2L475.7,723.8L478.1,724.5L480.5,725.2L482.8,725.8L485.2,726.4L487.6,727.0L490.0,727.6L492.4,728.1L494.9,728.6L497.3,729.1L499.7,729.5L502.2,730.0L504.6,730.4L507.1,730.8L509.6,731.1L512.0,731.5L514.5,731.8L517.0,732.2L519.5,732.5L521.9,732.8L524.4,733.1L526.9,733.4L529.4,733.7L531.9,734.0L534.4,734.2L536.9,734.5L539.4,734.8L541.9,735.1L544.4,735.4L546.9,735.7L549.4,736.0L551.9,736.3L554.3,736.6L556.8,737.0L559.3,737.3L561.8,737.7L564.2,738.1L566.7,738.5L569.2,738.9L571.6,739.3L574.1,739.7L576.5,740.1L579.0,740.6L581.5,741.0L583.9,741.5L586.4,741.9L588.8,742.3L591.3,742.7L593.7,743.1L596.2,743.5L598.6,743.9L601.1,744.3L603.5,744.7L606.0,745.0L608.5,745.4L610.9,745.7L613.4,746.0L615.9,746.3L618.3,746.5L620.8,746.8L623.3,747.0L625.8,747.3L628.3,747.5L630.7,747.7L633.2,747.9L635.7,748.1L638.2,748.2L640.7,748.4L643.2,748.5L645.7,748.7L648.2,748.8L650.6,748.9L653.1,749.0L655.6,749.1L658.1,749.2L660.6,749.3L663.1,749.3L665.6,749.4L668.1,749.4L670.7,749.4L673.2,749.5L675.7,749.5L678.2,749.5L680.7,749.5L683.2,749.5L685.7,749.5L688.2,749.5L690.7,749.4L693.3,749.4L695.8,749.3L698.3,749.3L700.8,749.2L703.3,749.2L705.8,749.1L708.4,749.0L710.9,749.0L713.4,748.9L715.9,748.8L718.4,748.7L721.0,748.6L723.5,748.5L726.0,748.4L728.5,748.3L731.1,748.2L733.6,748.1L736.1,748.0L738.6,747.8L741.2,747.7L743.7,747.6L746.2,747.5L748.7,747.3L751.3,747.2L753.8,747.1L756.3,747.0L758.8,746.8L761.4,746.7L763.9,746.6L766.4,746.4L768.9,746.3L771.5,746.2L774.0,746.0L776.5,745.9L779.0,745.8L781.6,745.7L784.1,745.5L786.6,745.4L789.1,745.3L791.7,745.2L794.2,745.1L796.7,744.9L799.2,744.8L801.7,744.7L804.3,744.6L806.8,744.5L809.3,744.4L811.8,744.3L814.3,744.3L816.8,744.2L819.4,744.1L821.9,744.0L824.4,744.0L826.9,743.9L829.4,743.9L831.9,743.8L834.4,743.8L836.9,743.7L839.4,743.7L841.9,743.7L844.4,743.7L847.0,743.7L849.5,743.7L852.0,743.7L854.5,743.7L856.9,743.7L859.4,743.8L861.9,743.8L864.4,743.9L866.9,743.9L869.4,744.0L871.9,744.1L874.4,744.2L876.9,744.3L879.3,744.4L881.8,744.5L884.3,744.7L886.8,744.8L889.3,745.0L891.7,745.2L894.2,745.4L896.7,745.6L899.1,745.8L901.6,746.0L904.1,746.2L906.5,746.5L909.0,746.7L911.4,747.0L913.9,747.3L916.4,747.6L918.8,747.9L921.2,748.3L923.7,748.6L926.1,749.0L928.6,749.4L931.0,749.8L933.4,750.2L935.9,750.6L938.3,751.1L940.7,751.5L943.2,752.0L945.6,752.5L948.0,753.0"/>
<path fill="none" stroke="#f040e0" stroke-width="7" stroke-linejoin="round" stroke-linecap="round" d="M142.0,753.5L144.5,753.4L146.9,753.3L149.4,753.3L151.8,753.3L154.3,753.3L156.8,753.2L159.3,753.3L161.8,753.3L164.3,753.3L166.8,753.3L169.3,753.4L171.8,753.4L174.3,753.5L176.9,753.5L179.4,753.5L181.9,753.6L184.4,753.6L186.9,753.7L189.5,753.7L192.0,753.7L194.5,753.7L197.0,753.7L199.6,753.7L202.1,753.7L204.6,753.7L207.1,753.6L209.6,753.6L212.2,753.5L214.7,753.4L217.2,753.2L219.7,753.1L222.2,752.9L224.7,752.7L227.1,752.4L229.6,752.2L232.1,751.9L234.6,751.6L237.0,751.2L239.5,750.8L241.9,750.4L244.4,749.9L246.8,749.4L249.2,748.8L251.6,748.3L254.0,747.6L256.4,746.9L258.8,746.2L261.2,745.5L263.6,744.7L265.9,743.9L268.3,743.1L270.6,742.3L273.0,741.5L275.4,740.6L277.7,739.7L280.1,738.9L282.4,738.0L284.8,737.1L287.1,736.2L289.5,735.4L291.8,734.5L294.2,733.7L296.6,732.8L299.0,732.0L301.3,731.2L303.7,730.5L306.1,729.7L308.5,729.0L311.0,728.4L313.4,727.7L315.8,727.1L318.2,726.6L320.7,726.0L323.1,725.6L325.6,725.1L328.1,724.7L330.5,724.3L333.0,723.9L335.5,723.6L337.9,723.4L340.4,723.1L342.9,723.0L345.4,722.8L347.9,722.7L350.3,722.6L352.8,722.6L355.3,722.6L357.8,722.7L360.3,722.8L362.7,723.0L365.2,723.2L367.7,723.4L370.1,723.7L372.6,724.0L375.1,724.4L377.5,724.8L380.0,725.3L382.4,725.8L384.8,726.4L387.3,726.9L389.7,727.5L392.1,728.2L394.5,728.8L397.0,729.5L399.4,730.1L401.8,730.8L404.2,731.4L406.6,732.1L409.1,732.7L411.5,733.3L413.9,733.9L416.3,734.5L418.8,735.0L421.2,735.5L423.7,736.0L426.1,736.5L428.6,736.9L431.0,737.3L433.5,737.7L435.9,738.1L438.4,738.4L440.8,738.8L443.3,739.1L445.8,739.3L448.2,739.6L450.7,739.8L453.2,740.1L455.7,740.3L458.1,740.5L460.6,740.6L463.1,740.8L465.6,740.9L468.1,741.1L470.6,741.2L473.1,741.3L475.6,741.4L478.0,741.4L480.5,741.5L483.0,741.6L485.5,741.6L488.0,741.6L490.5,741.7L493.0,741.7L495.5,741.7L498.0,741.7L500.5,741.7L503.0,741.7L505.5,741.7L508.0,741.7L510.6,741.7L513.1,741.7L515.6,741.7L518.1,741.6L520.6,741.6L523.1,741.6L525.6,741.6L528.1,741.6L530.6,741.6L533.1,741.6L535.6,741.6L538.1,741.6L540.6,741.6L543.1,741.6L545.6,741.6L548.1,741.6L550.6,741.6L553.1,741.6L555.6,741.6L558.1,741.6L560.6,741.6L563.1,741.7L565.7,741.7L568.2,741.7L570.7,741.7L573.2,741.8L575.7,741.8L578.2,741.8L580.7,741.9L583.2,741.9L585.7,742.0L588.2,742.0L590.7,742.0L593.2,742.1L595.7,742.1L598.2,742.2L600.7,742.2L603.2,742.3L605.7,742.3L608.2,742.3L610.7,742.4L613.2,742.4L615.7,742.5L618.2,742.6L620.7,742.6L623.2,742.7L625.7,742.7L628.2,742.8L630.7,742.8L633.2,742.9L635.7,742.9L638.2,743.0L640.6,743.0L643.1,743.1L645.6,743.1L648.1,743.2L650.6,743.3L653.1,743.3L655.6,743.4L658.1,743.4L660.6,743.5L663.1,743.5L665.6,743.6L668.1,743.6L670.6,743.7L673.1,743.7L675.6,743.8L678.1,743.8L680.6,743.9L683.1,743.9L685.6,744.0L688.1,744.0L690.6,744.0L693.1,744.1L695.6,744.1L698.1,744.2L700.6,744.2L703.1,744.2L705.6,744.3L708.1,744.3L710.6,744.3L713.1,744.4L715.6,744.4L718.1,744.4L720.6,744.4L723.1,744.5L725.6,744.5L728.1,744.5L730.6,744.5L733.1,744.5L735.6,744.5L738.1,744.6L740.6,744.6L743.1,744.6L745.6,744.6L748.1,744.6L750.6,744.6L753.1,744.6L755.6,744.6L758.1,744.6L760.6,744.6L763.1,744.7L765.6,744.7L768.1,744.7L770.6,744.7L773.1,744.7L775.6,744.7L778.1,744.7L780.6,744.7L783.1,744.7L785.6,744.7L788.1,744.7L790.6,744.7L793.1,744.8L795.6,744.8L798.1,744.8L800.6,744.8L803.1,744.8L805.6,744.8L808.1,744.8L810.6,744.9L813.1,744.9L815.6,744.9L818.1,744.9L820.6,744.9L823.1,745.0L825.6,745.0L828.1,745.0L830.6,745.1L833.1,745.1L835.6,745.1L838.1,745.2L840.6,745.2L843.1,745.2L845.6,745.3L848.1,745.3L850.6,745.4L853.1,745.4L855.6,745.5L858.1,745.5L860.6,745.6L863.1,745.7L865.6,745.7L868.1,745.8L870.6,745.9L873.1,745.9L875.6,746.0L878.1,746.1L880.6,746.2L883.1,746.3L885.6,746.3L888.1,746.4L890.6,746.5L893.1,746.6L895.6,746.7L898.1,746.9L900.6,747.0L903.1,747.1L905.6,747.2L908.1,747.3L910.6,747.5L913.1,747.6L915.6,747.7L918.1,747.9L920.6,748.0L923.0,748.2L925.5,748.3L928.0,748.5L930.5,748.7L933.0,748.9L935.5,749.0L938.0,749.2L940.5,749.4L943.0,749.6L945.5,749.8L948.0,750.0"/>
<path d="M142,753.5L212,753.5" stroke="#a83878" stroke-width="6" fill="none"/>
<path fill="none" stroke="#1a3ad8" stroke-width="7" stroke-linejoin="round" stroke-linecap="round" d="M142.0,760.0L144.5,760.0L146.9,760.1L149.4,760.1L151.9,760.1L154.4,760.2L156.9,760.3L159.4,760.3L161.9,760.4L164.3,760.5L166.8,760.5L169.3,760.6L171.8,760.7L174.3,760.8L176.8,760.8L179.3,760.9L181.8,761.0L184.3,761.1L186.8,761.1L189.4,761.2L191.9,761.3L194.4,761.3L196.9,761.4L199.4,761.4L201.9,761.4L204.4,761.5L206.9,761.5L209.4,761.5L211.9,761.5L214.4,761.5L216.9,761.4L219.4,761.4L221.9,761.3L224.4,761.3L226.9,761.2L229.3,761.1L231.8,760.9L234.3,760.8L236.8,760.7L239.3,760.5L241.8,760.3L244.2,760.1L246.7,759.8L249.2,759.6L251.6,759.3L254.1,759.0L256.6,758.7L259.0,758.3L261.5,757.9L263.9,757.5L266.3,757.1L268.8,756.6L271.2,756.2L273.6,755.6L276.0,755.1L278.5,754.5L280.9,753.9L283.3,753.3L285.7,752.6L288.1,752.0L290.5,751.3L292.9,750.6L295.3,749.9L297.7,749.2L300.1,748.5L302.4,747.8L304.8,747.0L307.2,746.3L309.6,745.6L312.0,744.9L314.4,744.2L316.8,743.5L319.2,742.8L321.6,742.1L324.0,741.5L326.4,740.9L328.8,740.3L331.3,739.7L333.7,739.1L336.1,738.6L338.5,738.1L341.0,737.6L343.4,737.2L345.9,736.7L348.3,736.3L350.8,735.9L353.2,735.5L355.7,735.1L358.1,734.7L360.6,734.4L363.0,734.1L365.5,733.7L368.0,733.4L370.5,733.1L372.9,732.8L375.4,732.6L377.9,732.3L380.4,732.0L382.8,731.8L385.3,731.5L387.8,731.3L390.3,731.1L392.8,730.8L395.2,730.6L397.7,730.4L400.2,730.2L402.7,730.0L405.2,729.7L407.7,729.5L410.2,729.3L412.6,729.1L415.1,728.9L417.6,728.7L420.1,728.5L422.6,728.2L425.1,728.0L427.6,727.8L430.0,727.6L432.5,727.4L435.0,727.2L437.5,727.0L440.0,726.8L442.5,726.6L445.0,726.5L447.5,726.3L450.0,726.1L452.4,725.9L454.9,725.7L457.4,725.5L459.9,725.4L462.4,725.2L464.9,725.0L467.4,724.8L469.9,724.7L472.4,724.5L474.9,724.4L477.3,724.2L479.8,724.0L482.3,723.9L484.8,723.7L487.3,723.6L489.8,723.5L492.3,723.3L494.8,723.2L497.3,723.1L499.8,722.9L502.3,722.8L504.7,722.7L507.2,722.6L509.7,722.5L512.2,722.3L514.7,722.2L517.2,722.1L519.7,722.0L522.2,721.9L524.7,721.8L527.2,721.8L529.7,721.7L532.1,721.6L534.6,721.5L537.1,721.4L539.6,721.4L542.1,721.3L544.6,721.2L547.1,721.2L549.6,721.1L552.1,721.0L554.6,721.0L557.1,720.9L559.6,720.9L562.0,720.8L564.5,720.8L567.0,720.8L569.5,720.7L572.0,720.7L574.5,720.7L577.0,720.6L579.5,720.6L582.0,720.6L584.5,720.6L587.0,720.6L589.4,720.6L591.9,720.6L594.4,720.6L596.9,720.5L599.4,720.6L601.9,720.6L604.4,720.6L606.9,720.6L609.4,720.6L611.9,720.6L614.4,720.6L616.8,720.6L619.3,720.7L621.8,720.7L624.3,720.7L626.8,720.7L629.3,720.8L631.8,720.8L634.3,720.9L636.8,720.9L639.3,721.0L641.8,721.0L644.2,721.0L646.7,721.1L649.2,721.2L651.7,721.2L654.2,721.3L656.7,721.3L659.2,721.4L661.7,721.5L664.2,721.5L666.7,721.6L669.2,721.7L671.6,721.8L674.1,721.9L676.6,721.9L679.1,722.0L681.6,722.1L684.1,722.2L686.6,722.3L689.1,722.4L691.6,722.5L694.1,722.6L696.5,722.7L699.0,722.8L701.5,722.9L704.0,723.0L706.5,723.1L709.0,723.2L711.5,723.4L714.0,723.5L716.5,723.6L719.0,723.7L721.4,723.8L723.9,724.0L726.4,724.1L728.9,724.2L731.4,724.4L733.9,724.5L736.4,724.6L738.9,724.8L741.3,724.9L743.8,725.1L746.3,725.2L748.8,725.4L751.3,725.5L753.8,725.7L756.3,725.8L758.8,726.0L761.3,726.1L763.7,726.3L766.2,726.4L768.7,726.6L771.2,726.8L773.7,726.9L776.2,727.1L778.7,727.3L781.2,727.4L783.6,727.6L786.1,727.8L788.6,728.0L791.1,728.2L793.6,728.3L796.1,728.5L798.6,728.7L801.0,728.9L803.5,729.1L806.0,729.3L808.5,729.5L811.0,729.6L813.5,729.8L816.0,730.0L818.5,730.2L820.9,730.4L823.4,730.6L825.9,730.8L828.4,731.0L830.9,731.2L833.4,731.4L835.8,731.7L838.3,731.9L840.8,732.1L843.3,732.3L845.8,732.5L848.3,732.7L850.8,732.9L853.2,733.2L855.7,733.4L858.2,733.6L860.7,733.8L863.2,734.0L865.7,734.3L868.1,734.5L870.6,734.7L873.1,734.9L875.6,735.2L878.1,735.4L880.6,735.6L883.0,735.9L885.5,736.1L888.0,736.3L890.5,736.6L893.0,736.8L895.4,737.0L897.9,737.3L900.4,737.5L902.9,737.8L905.4,738.0L907.8,738.2L910.3,738.5L912.8,738.7L915.3,739.0L917.8,739.2L920.2,739.5L922.7,739.7L925.2,740.0L927.7,740.2L930.2,740.5L932.6,740.7L935.1,741.0L937.6,741.2L940.1,741.5L942.6,741.8L945.0,742.0L947.5,742.3L950.0,742.5"/>
<path fill="none" stroke="#22e030" stroke-width="7" stroke-linejoin="round" stroke-linecap="round" d="M142.0,760.0L144.2,759.7L146.5,759.4L148.8,759.1L151.1,758.9L153.5,758.7L155.9,758.6L158.2,758.5L160.7,758.4L163.1,758.4L165.5,758.4L168.0,758.4L170.5,758.5L173.0,758.5L175.5,758.6L178.0,758.7L180.5,758.8L183.1,758.9L185.6,759.1L188.2,759.2L190.8,759.4L193.3,759.5L195.9,759.7L198.5,759.8L201.1,760.0L203.7,760.1L206.3,760.2L208.9,760.4L211.5,760.5L214.1,760.6L216.7,760.6L219.3,760.7L221.8,760.7L224.4,760.7L227.0,760.7L229.6,760.6L232.1,760.5L234.7,760.4L237.2,760.2L239.7,760.0L242.2,759.7L244.7,759.4L247.2,759.1L249.7,758.7L252.1,758.2L254.5,757.7L256.9,757.2L259.3,756.5L261.7,755.9L264.1,755.1L266.4,754.3L268.7,753.5L271.0,752.6L273.3,751.6L275.5,750.6L277.8,749.6L280.0,748.5L282.2,747.4L284.4,746.3L286.6,745.1L288.8,743.9L291.0,742.7L293.2,741.5L295.4,740.2L297.5,738.9L299.7,737.7L301.9,736.4L304.0,735.1L306.2,733.8L308.4,732.6L310.6,731.3L312.7,730.0L314.9,728.8L317.1,727.5L319.3,726.3L321.5,725.1L323.7,723.9L325.9,722.7L328.1,721.6L330.3,720.4L332.5,719.3L334.8,718.1L337.0,717.0L339.3,715.9L341.5,714.9L343.8,713.8L346.0,712.8L348.3,711.8L350.6,710.8L352.8,709.8L355.1,708.8L357.4,707.9L359.7,707.0L362.1,706.1L364.4,705.2L366.7,704.4L369.0,703.5L371.4,702.7L373.7,702.0L376.1,701.2L378.5,700.5L380.8,699.8L383.2,699.1L385.6,698.5L388.0,697.8L390.4,697.2L392.9,696.7L395.3,696.1L397.7,695.6L400.2,695.1L402.6,694.6L405.1,694.1L407.5,693.6L410.0,693.2L412.5,692.7L414.9,692.3L417.4,691.9L419.9,691.5L422.4,691.1L424.9,690.7L427.4,690.3L429.8,690.0L432.3,689.6L434.8,689.2L437.3,688.9L439.8,688.5L442.3,688.1L444.8,687.8L447.3,687.4L449.8,687.0L452.2,686.6L454.7,686.2L457.2,685.8L459.7,685.4L462.1,685.0L464.6,684.6L467.1,684.2L469.5,683.7L472.0,683.3L474.4,682.8L476.9,682.3L479.3,681.8L481.8,681.3L484.2,680.9L486.7,680.4L489.1,679.8L491.5,679.3L494.0,678.8L496.4,678.3L498.8,677.8L501.3,677.3L503.7,676.7L506.1,676.2L508.6,675.7L511.0,675.1L513.4,674.6L515.9,674.1L518.3,673.6L520.8,673.0L523.2,672.5L525.7,672.0L528.1,671.5L530.6,671.0L533.0,670.4L535.5,669.9L537.9,669.4L540.4,668.9L542.8,668.5L545.3,668.0L547.8,667.5L550.3,667.1L552.7,666.7L555.2,666.2L557.7,665.8L560.1,665.4L562.6,665.1L565.1,664.7L567.6,664.4L570.1,664.1L572.6,663.8L575.0,663.6L577.5,663.3L580.0,663.1L582.5,662.9L585.0,662.8L587.5,662.6L590.0,662.5L592.5,662.5L594.9,662.4L597.4,662.4L599.9,662.4L602.4,662.4L604.9,662.4L607.4,662.5L609.9,662.6L612.4,662.7L614.9,662.8L617.4,662.9L619.9,663.1L622.4,663.2L624.8,663.4L627.3,663.6L629.8,663.8L632.3,664.0L634.8,664.3L637.3,664.5L639.8,664.7L642.3,665.0L644.7,665.2L647.2,665.5L649.7,665.8L652.2,666.1L654.7,666.4L657.1,666.7L659.6,667.0L662.1,667.3L664.6,667.6L667.1,668.0L669.5,668.3L672.0,668.6L674.5,669.0L677.0,669.3L679.4,669.7L681.9,670.1L684.4,670.4L686.9,670.8L689.3,671.2L691.8,671.6L694.3,672.0L696.7,672.4L699.2,672.8L701.7,673.2L704.1,673.6L706.6,674.0L709.1,674.4L711.5,674.9L714.0,675.3L716.5,675.7L718.9,676.1L721.4,676.6L723.9,677.0L726.3,677.4L728.8,677.9L731.3,678.3L733.7,678.8L736.2,679.2L738.6,679.7L741.1,680.1L743.6,680.6L746.0,681.0L748.5,681.4L751.0,681.9L753.4,682.4L755.9,682.8L758.3,683.3L760.8,683.7L763.2,684.2L765.7,684.6L768.1,685.1L770.6,685.6L773.1,686.0L775.5,686.5L778.0,687.0L780.4,687.5L782.9,688.0L785.3,688.5L787.8,689.0L790.2,689.5L792.7,690.0L795.1,690.5L797.5,691.0L800.0,691.5L802.4,692.0L804.9,692.5L807.3,693.1L809.7,693.6L812.2,694.1L814.6,694.7L817.0,695.3L819.5,695.8L821.9,696.4L824.3,697.0L826.8,697.5L829.2,698.1L831.6,698.7L834.0,699.3L836.5,699.9L838.9,700.6L841.3,701.2L843.7,701.8L846.1,702.5L848.5,703.1L850.9,703.8L853.3,704.4L855.8,705.1L858.2,705.8L860.6,706.5L863.0,707.2L865.4,707.9L867.8,708.5L870.2,709.2L872.6,709.9L875.0,710.6L877.4,711.3L879.8,712.1L882.2,712.8L884.6,713.5L887.0,714.2L889.4,714.9L891.8,715.5L894.2,716.2L896.6,716.9L899.0,717.6L901.4,718.3L903.8,719.0L906.2,719.6L908.6,720.3L911.1,721.0L913.5,721.6L915.9,722.2L918.3,722.9L920.7,723.5L923.1,724.1L925.6,724.7L928.0,725.3L930.4,725.9L932.9,726.4L935.3,727.0L937.7,727.5L940.2,728.1L942.6,728.6L945.1,729.1L947.5,729.5L950.0,730.0"/>
<path fill="none" stroke="#ee2010" stroke-width="7" stroke-linejoin="round" stroke-linecap="round" d="M142.0,760.0L144.4,760.2L146.7,760.5L149.1,760.7L151.5,760.9L153.9,761.1L156.4,761.2L158.8,761.3L161.3,761.4L163.7,761.5L166.2,761.6L168.7,761.7L171.2,761.7L173.7,761.7L176.2,761.7L178.7,761.6L181.2,761.6L183.7,761.5L186.3,761.4L188.8,761.2L191.3,761.1L193.9,760.9L196.4,760.6L199.0,760.4L201.5,760.1L204.0,759.8L206.6,759.5L209.1,759.2L211.6,758.8L214.1,758.4L216.6,757.9L219.1,757.5L221.6,757.0L224.1,756.5L226.6,755.9L229.1,755.3L231.6,754.7L234.0,754.0L236.4,753.4L238.9,752.6L241.3,751.9L243.7,751.1L246.0,750.3L248.4,749.4L250.8,748.6L253.1,747.6L255.4,746.7L257.7,745.7L259.9,744.7L262.2,743.6L264.4,742.5L266.6,741.4L268.8,740.2L270.9,739.0L273.1,737.7L275.2,736.4L277.3,735.1L279.3,733.8L281.3,732.3L283.3,730.9L285.3,729.4L287.2,727.9L289.1,726.3L291.0,724.7L292.8,723.1L294.7,721.5L296.5,719.8L298.2,718.0L300.0,716.3L301.7,714.5L303.4,712.7L305.1,710.9L306.8,709.0L308.4,707.1L310.0,705.2L311.6,703.3L313.2,701.3L314.7,699.3L316.3,697.4L317.8,695.3L319.3,693.3L320.7,691.3L322.2,689.2L323.6,687.2L325.0,685.1L326.4,683.0L327.8,680.9L329.2,678.8L330.5,676.6L331.9,674.5L333.2,672.4L334.5,670.2L335.8,668.1L337.1,666.0L338.4,663.8L339.7,661.7L341.0,659.5L342.3,657.4L343.6,655.3L344.9,653.2L346.3,651.1L347.6,649.0L349.0,646.9L350.4,644.8L351.8,642.8L353.2,640.8L354.6,638.8L356.1,636.8L357.6,634.8L359.2,632.9L360.7,631.0L362.4,629.1L364.0,627.3L365.7,625.4L367.4,623.7L369.2,621.9L371.0,620.2L372.8,618.5L374.7,616.8L376.6,615.2L378.5,613.5L380.5,612.0L382.5,610.4L384.5,608.9L386.5,607.4L388.5,605.9L390.6,604.5L392.7,603.1L394.8,601.7L396.9,600.4L399.1,599.1L401.2,597.8L403.4,596.5L405.6,595.3L407.7,594.1L409.9,592.9L412.1,591.7L414.3,590.5L416.5,589.4L418.7,588.2L420.9,587.0L423.1,585.8L425.3,584.7L427.4,583.5L429.6,582.2L431.7,581.0L433.9,579.7L436.0,578.4L438.0,577.1L440.1,575.7L442.1,574.3L444.2,572.9L446.2,571.4L448.1,569.9L450.1,568.3L452.1,566.8L454.0,565.2L456.0,563.6L457.9,562.1L459.9,560.5L461.8,558.9L463.8,557.3L465.8,555.7L467.7,554.2L469.7,552.6L471.7,551.1L473.7,549.6L475.7,548.1L477.7,546.6L479.7,545.1L481.8,543.7L483.8,542.2L485.9,540.8L488.0,539.5L490.1,538.1L492.2,536.8L494.3,535.5L496.4,534.3L498.6,533.1L500.8,531.9L503.0,530.8L505.2,529.7L507.5,528.6L509.7,527.6L512.0,526.6L514.2,525.5L516.5,524.5L518.8,523.6L521.1,522.6L523.4,521.6L525.7,520.6L528.0,519.7L530.3,518.7L532.6,517.7L534.9,516.8L537.2,515.8L539.5,514.8L541.8,513.7L544.1,512.7L546.4,511.7L548.8,510.6L551.1,509.6L553.4,508.6L555.7,507.6L558.0,506.6L560.3,505.7L562.7,504.8L565.1,504.0L567.4,503.3L569.9,502.6L572.3,502.0L574.7,501.5L577.2,501.1L579.6,500.8L582.1,500.5L584.6,500.4L587.1,500.3L589.5,500.3L592.0,500.4L594.5,500.6L596.9,500.9L599.3,501.3L601.7,501.8L604.0,502.4L606.4,503.1L608.7,503.9L611.0,504.7L613.2,505.7L615.4,506.7L617.7,507.7L619.9,508.9L622.0,510.1L624.2,511.4L626.3,512.7L628.4,514.1L630.5,515.5L632.6,516.9L634.6,518.4L636.7,520.0L638.7,521.5L640.7,523.1L642.7,524.7L644.7,526.4L646.7,528.0L648.6,529.7L650.5,531.3L652.5,533.0L654.4,534.7L656.3,536.3L658.2,538.0L660.1,539.6L662.0,541.3L663.8,542.9L665.7,544.6L667.6,546.2L669.5,547.9L671.3,549.5L673.2,551.1L675.0,552.7L676.9,554.4L678.8,556.0L680.7,557.6L682.5,559.2L684.4,560.8L686.3,562.3L688.2,563.9L690.1,565.5L692.0,567.0L693.9,568.6L695.9,570.1L697.8,571.7L699.8,573.2L701.7,574.7L703.7,576.2L705.7,577.7L707.7,579.2L709.6,580.7L711.6,582.2L713.6,583.7L715.6,585.2L717.7,586.6L719.7,588.1L721.7,589.6L723.7,591.0L725.8,592.5L727.8,594.0L729.8,595.4L731.9,596.9L733.9,598.3L735.9,599.8L738.0,601.2L740.0,602.6L742.1,604.1L744.1,605.5L746.2,607.0L748.2,608.4L750.3,609.9L752.3,611.3L754.4,612.8L756.4,614.2L758.5,615.7L760.5,617.1L762.6,618.6L764.6,620.0L766.6,621.5L768.7,622.9L770.7,624.4L772.7,625.9L774.7,627.3L776.7,628.8L778.8,630.3L780.8,631.8L782.8,633.3L784.8,634.8L786.8,636.3L788.8,637.7L790.8,639.2L792.8,640.7L794.7,642.2L796.7,643.7L798.7,645.2L800.7,646.7L802.7,648.2L804.7,649.7L806.7,651.2L808.7,652.6L810.7,654.1L812.7,655.6L814.7,657.0L816.7,658.5L818.8,660.0L820.8,661.4L822.8,662.8L824.8,664.3L826.9,665.7L828.9,667.1L831.0,668.5L833.0,669.9L835.1,671.3L837.2,672.7L839.3,674.0L841.4,675.4L843.5,676.7L845.6,678.0L847.7,679.3L849.8,680.6L852.0,681.9L854.1,683.2L856.3,684.5L858.4,685.7L860.6,687.0L862.8,688.2L864.9,689.4L867.1,690.6L869.3,691.8L871.5,693.0L873.7,694.2L876.0,695.3L878.2,696.5L880.4,697.6L882.7,698.7L884.9,699.8L887.2,700.9L889.4,702.0L891.7,703.0L894.0,704.1L896.2,705.1L898.5,706.1L900.8,707.1L903.1,708.1L905.4,709.1L907.7,710.1L910.0,711.0L912.3,712.0L914.7,712.9L917.0,713.8L919.3,714.7L921.6,715.6L924.0,716.4L926.3,717.3L928.7,718.1L931.0,719.0L933.4,719.8L935.8,720.6L938.1,721.3L940.5,722.1L942.9,722.8L945.2,723.6L947.6,724.3L950.0,725.0"/>
<path fill="none" stroke="#000000" stroke-width="7" stroke-linejoin="round" stroke-linecap="round" d="M142.0,761.0L144.1,761.0L146.3,760.9L148.5,760.9L150.7,760.9L153.0,760.8L155.3,760.8L157.7,760.8L160.1,760.7L162.6,760.7L165.1,760.6L167.6,760.5L170.1,760.4L172.7,760.3L175.2,760.2L177.8,760.1L180.5,760.0L183.1,759.8L185.7,759.6L188.4,759.4L191.1,759.2L193.7,758.9L196.4,758.6L199.1,758.3L201.7,758.0L204.4,757.6L207.1,757.2L209.7,756.8L212.3,756.3L214.9,755.8L217.5,755.2L220.1,754.7L222.7,754.1L225.2,753.4L227.7,752.7L230.2,751.9L232.6,751.1L235.0,750.3L237.4,749.4L239.7,748.5L242.0,747.5L244.3,746.4L246.5,745.3L248.6,744.2L250.7,743.0L252.8,741.7L254.7,740.4L256.7,739.0L258.5,737.6L260.3,736.0L262.1,734.5L263.8,732.8L265.4,731.2L267.0,729.4L268.5,727.6L270.0,725.8L271.4,723.9L272.8,722.0L274.1,720.0L275.4,718.0L276.6,716.0L277.8,713.9L279.0,711.8L280.1,709.6L281.2,707.4L282.3,705.2L283.3,702.9L284.3,700.7L285.3,698.4L286.2,696.0L287.1,693.7L288.0,691.3L288.9,689.0L289.7,686.6L290.5,684.2L291.3,681.7L292.1,679.3L292.9,676.9L293.7,674.4L294.4,672.0L295.2,669.5L295.9,667.1L296.6,664.6L297.4,662.2L298.1,659.7L298.8,657.3L299.5,654.9L300.2,652.4L300.9,650.0L301.6,647.5L302.3,645.1L302.9,642.7L303.6,640.2L304.3,637.8L304.9,635.3L305.6,632.9L306.2,630.5L306.9,628.0L307.5,625.6L308.1,623.2L308.8,620.7L309.4,618.3L310.0,615.9L310.6,613.4L311.2,611.0L311.8,608.6L312.4,606.1L313.0,603.7L313.6,601.3L314.2,598.9L314.8,596.4L315.4,594.0L315.9,591.6L316.5,589.1L317.1,586.7L317.6,584.3L318.2,581.9L318.7,579.4L319.3,577.0L319.8,574.6L320.4,572.2L320.9,569.7L321.5,567.3L322.0,564.9L322.5,562.5L323.1,560.0L323.6,557.6L324.1,555.2L324.6,552.8L325.1,550.3L325.7,547.9L326.2,545.5L326.7,543.1L327.2,540.6L327.7,538.2L328.2,535.8L328.7,533.4L329.2,530.9L329.7,528.5L330.2,526.1L330.7,523.7L331.2,521.2L331.7,518.8L332.2,516.4L332.7,514.0L333.2,511.5L333.7,509.1L334.2,506.7L334.7,504.3L335.2,501.8L335.7,499.4L336.2,497.0L336.7,494.5L337.2,492.1L337.6,489.7L338.1,487.2L338.6,484.8L339.1,482.4L339.6,479.9L340.1,477.5L340.6,475.1L341.1,472.6L341.6,470.2L342.1,467.8L342.6,465.3L343.1,462.9L343.6,460.5L344.1,458.0L344.6,455.6L345.1,453.2L345.6,450.7L346.1,448.3L346.6,445.8L347.1,443.4L347.6,440.9L348.1,438.5L348.6,436.0L349.2,433.6L349.7,431.2L350.2,428.7L350.7,426.3L351.2,423.8L351.8,421.4L352.3,418.9L352.8,416.4L353.4,414.0L353.9,411.5L354.5,409.1L355.0,406.6L355.6,404.2L356.1,401.7L356.7,399.2L357.2,396.8L357.8,394.3L358.4,391.9L358.9,389.4L359.5,386.9L360.1,384.5L360.7,382.0L361.3,379.6L361.9,377.1L362.5,374.6L363.1,372.2L363.8,369.7L364.4,367.3L365.1,364.9L365.7,362.4L366.4,360.0L367.1,357.6L367.8,355.1L368.5,352.7L369.2,350.3L369.9,347.9L370.6,345.5L371.4,343.1L372.2,340.7L372.9,338.3L373.7,336.0L374.6,333.6L375.4,331.2L376.2,328.9L377.1,326.5L377.9,324.2L378.8,321.9L379.7,319.6L380.7,317.3L381.6,315.0L382.6,312.7L383.6,310.4L384.6,308.2L385.6,305.9L386.6,303.7L387.7,301.4L388.8,299.2L389.9,297.0L391.0,294.8L392.1,292.7L393.3,290.5L394.5,288.4L395.7,286.2L396.9,284.1L398.2,282.0L399.5,279.9L400.8,277.9L402.2,275.8L403.5,273.8L404.9,271.8L406.3,269.7L407.8,267.8L409.2,265.8L410.8,263.8L412.3,261.9L413.8,260.0L415.4,258.1L417.0,256.2L418.7,254.4L420.4,252.5L422.1,250.7L423.8,248.9L425.6,247.1L427.4,245.4L429.2,243.6L431.0,241.8L432.9,240.0L434.7,238.2L436.6,236.4L438.4,234.6L440.3,232.7L442.2,230.8L444.0,228.8L445.9,226.9L447.7,224.9L449.5,222.9L451.4,220.9L453.2,219.0L455.1,217.1L456.9,215.3L458.8,213.6L460.7,212.0L462.6,210.6L464.5,209.3L466.4,208.1L468.4,207.1L470.3,206.4L472.3,205.8L474.3,205.5L476.3,205.3L478.2,205.4L480.1,205.8L482.0,206.3L483.9,207.0L485.6,208.0L487.3,209.1L489.0,210.4L490.6,211.9L492.1,213.5L493.6,215.2L495.0,217.1L496.4,219.1L497.8,221.2L499.1,223.4L500.4,225.7L501.6,228.0L502.9,230.5L504.1,232.9L505.2,235.4L506.4,237.9L507.6,240.4L508.7,243.0L509.8,245.5L511.0,248.0L512.1,250.5L513.2,252.9L514.4,255.4L515.5,257.8L516.6,260.2L517.7,262.5L518.9,264.9L520.0,267.3L521.1,269.6L522.2,271.9L523.3,274.2L524.4,276.5L525.5,278.8L526.6,281.1L527.7,283.3L528.7,285.6L529.8,287.8L530.9,290.0L532.0,292.2L533.0,294.5L534.1,296.7L535.1,298.9L536.2,301.1L537.2,303.3L538.3,305.5L539.3,307.7L540.3,309.8L541.3,312.0L542.4,314.2L543.4,316.4L544.4,318.6L545.4,320.8L546.4,323.0L547.3,325.2L548.3,327.4L549.3,329.6L550.2,331.8L551.2,334.1L552.2,336.3L553.1,338.5L554.0,340.8L554.9,343.0L555.9,345.3L556.8,347.6L557.7,349.9L558.6,352.2L559.5,354.5L560.3,356.9L561.2,359.2L562.1,361.6L562.9,364.0L563.8,366.4L564.6,368.8L565.5,371.2L566.3,373.6L567.2,376.0L568.0,378.4L568.9,380.8L569.8,383.2L570.7,385.6L571.6,388.0L572.5,390.4L573.4,392.7L574.4,395.1L575.3,397.4L576.3,399.7L577.3,402.0L578.4,404.3L579.4,406.5L580.5,408.8L581.5,411.0L582.6,413.3L583.6,415.5L584.7,417.7L585.8,419.9L586.8,422.2L587.9,424.4L588.9,426.6L590.0,428.9L591.0,431.1L592.0,433.4L593.0,435.6L594.0,437.9L595.0,440.2L596.0,442.5L596.9,444.7L597.9,447.0L598.9,449.3L599.8,451.6L600.8,453.9L601.7,456.2L602.7,458.5L603.6,460.8L604.5,463.1L605.5,465.4L606.4,467.7L607.3,470.0L608.3,472.4L609.2,474.7L610.1,477.0L611.0,479.3L611.9,481.6L612.9,484.0L613.8,486.3L614.7,488.6L615.6,490.9L616.5,493.2L617.5,495.6L618.4,497.9L619.3,500.2L620.3,502.5L621.2,504.8L622.1,507.2L623.1,509.5L624.0,511.8L625.0,514.1L625.9,516.4L626.9,518.7L627.9,521.0L628.9,523.3L629.8,525.6L630.8,527.9L631.8,530.2L632.8,532.5L633.9,534.8L634.9,537.1L635.9,539.3L637.0,541.6L638.0,543.9L639.1,546.1L640.2,548.4L641.3,550.6L642.4,552.9L643.5,555.1L644.6,557.4L645.7,559.6L646.9,561.8L648.0,564.0L649.2,566.2L650.4,568.4L651.6,570.6L652.9,572.8L654.1,575.0L655.3,577.1L656.6,579.3L657.9,581.5L659.2,583.6L660.5,585.7L661.9,587.9L663.2,590.0L664.6,592.1L666.0,594.2L667.4,596.2L668.8,598.3L670.2,600.4L671.6,602.4L673.1,604.5L674.6,606.5L676.1,608.5L677.6,610.5L679.1,612.5L680.7,614.4L682.2,616.4L683.8,618.3L685.4,620.2L687.0,622.1L688.6,624.0L690.3,625.9L691.9,627.8L693.6,629.6L695.3,631.4L697.0,633.2L698.7,635.0L700.5,636.8L702.2,638.5L704.0,640.3L705.8,642.0L707.6,643.7L709.4,645.4L711.3,647.0L713.1,648.6L715.0,650.3L716.9,651.9L718.8,653.4L720.8,655.0L722.7,656.5L724.7,658.0L726.7,659.5L728.7,660.9L730.7,662.4L732.7,663.8L734.8,665.2L736.8,666.5L738.9,667.9L741.0,669.2L743.1,670.5L745.3,671.7L747.4,673.0L749.6,674.2L751.8,675.4L754.0,676.6L756.2,677.7L758.4,678.9L760.6,680.0L762.9,681.1L765.2,682.1L767.4,683.2L769.7,684.3L772.0,685.3L774.3,686.3L776.6,687.3L778.9,688.3L781.2,689.3L783.6,690.3L785.9,691.2L788.3,692.2L790.6,693.1L792.9,694.0L795.3,695.0L797.7,695.9L800.0,696.8L802.4,697.7L804.7,698.6L807.1,699.5L809.5,700.4L811.8,701.3L814.2,702.1L816.6,703.0L818.9,703.9L821.3,704.8L823.6,705.7L826.0,706.6L828.3,707.5L830.7,708.3L833.0,709.2L835.4,710.1L837.7,711.0L840.0,711.9L842.4,712.8L844.7,713.7L847.0,714.6L849.3,715.5L851.6,716.4L854.0,717.3L856.3,718.1L858.6,719.0L860.9,719.9L863.2,720.7L865.6,721.6L867.9,722.4L870.2,723.3L872.5,724.1L874.9,724.9L877.2,725.7L879.5,726.5L881.9,727.3L884.2,728.1L886.6,728.8L888.9,729.6L891.3,730.3L893.6,731.1L896.0,731.8L898.3,732.5L900.7,733.1L903.1,733.8L905.5,734.5L907.9,735.1L910.3,735.7L912.7,736.3L915.1,736.9L917.5,737.4L920.0,737.9L922.4,738.4L924.9,738.9L927.3,739.4L929.8,739.8L932.3,740.3L934.8,740.7L937.3,741.0L939.8,741.4L942.3,741.7L944.9,742.0L947.4,742.3L950.0,742.5"/>
</g>
<path fill="none" stroke="#000" stroke-width="1.9" d="M141.6,761.0h11M948.0,761.0h-11M141.6,680.9h11M948.0,680.9h-11M141.6,600.8h11M948.0,600.8h-11M141.6,520.7h11M948.0,520.7h-11M141.6,440.6h11M948.0,440.6h-11M141.6,360.5h11M948.0,360.5h-11M141.6,280.4h11M948.0,280.4h-11M141.6,200.3h11M948.0,200.3h-11M141.6,721.0h5.5M948.0,721.0h-5.5M141.6,640.9h5.5M948.0,640.9h-5.5M141.6,560.8h5.5M948.0,560.8h-5.5M141.6,480.6h5.5M948.0,480.6h-5.5M141.6,400.6h5.5M948.0,400.6h-5.5M141.6,320.4h5.5M948.0,320.4h-5.5M141.6,240.3h5.5M948.0,240.3h-5.5M141.6,160.2h5.5M948.0,160.2h-5.5M275.0,769.3v-11M275.0,120.3v11M499.4,769.3v-11M499.4,120.3v11M723.7,769.3v-11M723.7,120.3v11M162.8,769.3v-5.5M162.8,120.3v5.5M387.2,769.3v-5.5M387.2,120.3v5.5M611.5,769.3v-5.5M611.5,120.3v5.5M835.9,769.3v-5.5M835.9,120.3v5.5"/>
<rect x="141.6" y="120.3" width="806.4" height="649.0" fill="none" stroke="#000" stroke-width="2.1"/>
<text x="126" y="770.8" font-family="&quot;Liberation Sans&quot;, sans-serif" font-weight="bold" font-size="38.7" text-anchor="end">0.0</text>
<text x="126" y="690.7" font-family="&quot;Liberation Sans&quot;, sans-serif" font-weight="bold" font-size="38.7" text-anchor="end">0.1</text>
<text x="126" y="610.6" font-family="&quot;Liberation Sans&quot;, sans-serif" font-weight="bold" font-size="38.7" text-anchor="end">0.2</text>
<text x="126" y="530.5" font-family="&quot;Liberation Sans&quot;, sans-serif" font-weight="bold" font-size="38.7" text-anchor="end">0.3</text>
<text x="126" y="450.4" font-family="&quot;Liberation Sans&quot;, sans-serif" font-weight="bold" font-size="38.7" text-anchor="end">0.4</text>
<text x="126" y="370.3" font-family="&quot;Liberation Sans&quot;, sans-serif" font-weight="bold" font-size="38.7" text-anchor="end">0.5</text>
<text x="126" y="290.2" font-family="&quot;Liberation Sans&quot;, sans-serif" font-weight="bold" font-size="38.7" text-anchor="end">0.6</text>
<text x="126" y="210.1" font-family="&quot;Liberation Sans&quot;, sans-serif" font-weight="bold" font-size="38.7" text-anchor="end">0.7</text>
<text x="126" y="130.0" font-family="&quot;Liberation Sans&quot;, sans-serif" font-weight="bold" font-size="38.7" text-anchor="end">0.8</text>
<text x="275.0" y="813.1" font-family="&quot;Liberation Sans&quot;, sans-serif" font-weight="bold" font-size="39.5" text-anchor="middle">500</text>
<text x="499.4" y="813.1" font-family="&quot;Liberation Sans&quot;, sans-serif" font-weight="bold" font-size="39.5" text-anchor="middle">550</text>
<text x="723.7" y="813.1" font-family="&quot;Liberation Sans&quot;, sans-serif" font-weight="bold" font-size="39.5" text-anchor="middle">600</text>
<text x="948.1" y="813.1" font-family="&quot;Liberation Sans&quot;, sans-serif" font-weight="bold" font-size="39.5" text-anchor="middle">650</text>
<text x="384" y="879" font-family="&quot;Liberation Sans&quot;, sans-serif" font-weight="bold" font-size="39.8">Wavelength (nm)</text>
<text transform="translate(35.5,662.5) rotate(-90)" x="0" y="0" font-family="&quot;Liberation Sans&quot;, sans-serif" font-weight="bold" font-size="39.7">Spectral intensity [a.u.]</text>
<text x="172" y="190" font-family="&quot;Liberation Sans&quot;, sans-serif" font-weight="bold" font-size="34">At 88 mA/cm</text>
<text x="379" y="174" font-family="&quot;Liberation Sans&quot;, sans-serif" font-weight="bold" font-size="20">2</text>
<path d="M659.5,175L665.5,165.5L671.5,175Z" fill="#000"/>
<text x="713" y="182.6" font-family="&quot;Liberation Sans&quot;, sans-serif" font-weight="bold" font-size="30.9">Measurement</text>
<line x1="625" y1="214.7" x2="706" y2="214.7" stroke="#000" stroke-width="7.5" stroke-linecap="round"/>
<text x="722" y="227" font-family="&quot;Liberation Sans&quot;, sans-serif" font-weight="bold" font-size="30.6">Optical Fit</text>
<text x="538" y="235.2" font-family="&quot;Liberation Sans&quot;, sans-serif" font-weight="bold" font-size="53">70°</text>
<text x="190.5" y="629.4" font-family="&quot;Liberation Sans&quot;, sans-serif" font-weight="bold" font-size="52" fill="#0a643c">0°</text>
<path fill="#f5b90a" d="M185.6,628.6L191,628.6L191,666.4L184.4,666.4L184.4,640.5C181.6,643 177.5,645.2 174,646.3L174,640C178.5,638.2 183.4,634 185.6,628.6Z"/>
<text x="199.2" y="666" font-family="&quot;Liberation Sans&quot;, sans-serif" font-weight="bold" font-size="52" fill="#f5b90a">0°</text>
<text x="170.5" y="715.5" font-family="&quot;Liberation Sans&quot;, sans-serif" font-weight="bold" font-size="52" fill="#7c0a0a">20°</text>
<text x="171.5" y="760.7" font-family="&quot;Liberation Sans&quot;, sans-serif" font-weight="bold" font-size="52" fill="#f03c96">30°</text>
<text x="538" y="727.5" font-family="&quot;Liberation Sans&quot;, sans-serif" font-weight="bold" font-size="52" fill="#1e4a8c">40°</text>
<text x="540.2" y="653.4" font-family="&quot;Liberation Sans&quot;, sans-serif" font-weight="bold" font-size="52" fill="#1a9050">50°</text>
<text x="539" y="464.2" font-family="&quot;Liberation Sans&quot;, sans-serif" font-weight="bold" font-size="52" fill="#e8200a">60°</text>
</svg></body></html>
